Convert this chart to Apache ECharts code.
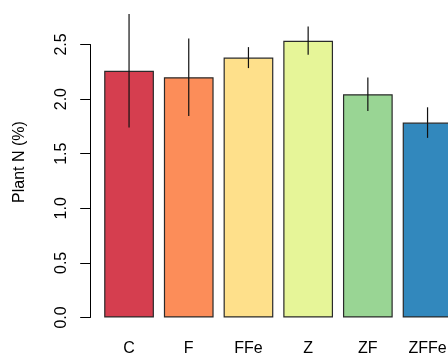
<!DOCTYPE html>
<html>
<head>
<meta charset="utf-8">
<script src="https://cdn.jsdelivr.net/npm/echarts@6/dist/echarts.min.js"></script>
<style>
  html, body { margin: 0; padding: 0; background: #fff; }
  #chart { width: 448px; height: 355px; }
</style>
</head>
<body>
<div id="chart"></div>
<script>
// Plant nitrogen content by treatment, mean with error bar half-widths
const categories = ['C', 'F', 'FFe', 'Z', 'ZF', 'ZFFe'];
const plantN = [2.26, 2.20, 2.38, 2.535, 2.045, 1.785];
const errN = [0.52, 0.355, 0.096, 0.13, 0.153, 0.14];
const barColors = ['#D53E4F', '#FC8D59', '#FEE08B', '#E6F598', '#99D594', '#3288BD'];
const yTicks = [0, 0.5, 1.0, 1.5, 2.0, 2.5];

const FONT = 'Liberation Sans, Arial, sans-serif';
const chart = echarts.init(document.getElementById('chart'), null, { renderer: 'canvas' });

chart.setOption({
  animation: false,
  backgroundColor: '#ffffff',
  // plot region runs past the right edge of the canvas
  grid: { left: 99.2, top: 44.5, width: 358.2, height: 273, outerBoundsMode: 'none' },
  xAxis: {
    type: 'category',
    data: categories,
    axisLine: { show: false },
    axisTick: { show: false },
    axisLabel: { margin: 23.5, fontSize: 16, color: '#000', fontFamily: FONT }
  },
  yAxis: {
    type: 'value',
    min: yTicks[0],
    max: yTicks[yTicks.length - 1],
    interval: 0.5,
    offset: 9,
    splitLine: { show: false },
    axisLine: { show: true, lineStyle: { color: '#000', width: 1 } },
    axisTick: { show: true, length: 10, lineStyle: { color: '#000', width: 1 } },
    axisLabel: {
      rotate: 90,
      margin: 21,
      fontSize: 16,
      color: '#000',
      fontFamily: FONT,
      formatter: v => v.toFixed(1)
    }
  },
  graphic: [{
    type: 'text',
    x: 20,
    y: 162,
    rotation: Math.PI / 2,
    style: {
      text: 'Plant N (%)',
      fill: '#000',
      font: '16px ' + FONT,
      align: 'center',
      verticalAlign: 'middle'
    }
  }],
  series: [
    {
      type: 'bar',
      clip: false,
      barWidth: '83.3%',
      data: plantN.map((v, i) => ({
        value: v,
        itemStyle: { color: barColors[i], borderColor: '#2a2a2a', borderWidth: 1.2 }
      }))
    },
    {
      type: 'custom',
      clip: false,
      z: 5,
      data: plantN.map((v, i) => [i, v - errN[i], v + errN[i]]),
      renderItem: (params, api) => {
        const lo = api.coord([api.value(0), api.value(1)]);
        const hi = api.coord([api.value(0), api.value(2)]);
        return {
          type: 'line',
          shape: { x1: lo[0], y1: lo[1], x2: hi[0], y2: hi[1] },
          style: { stroke: '#111', lineWidth: 1.2 }
        };
      }
    }
  ]
});
</script>
</body>
</html>
